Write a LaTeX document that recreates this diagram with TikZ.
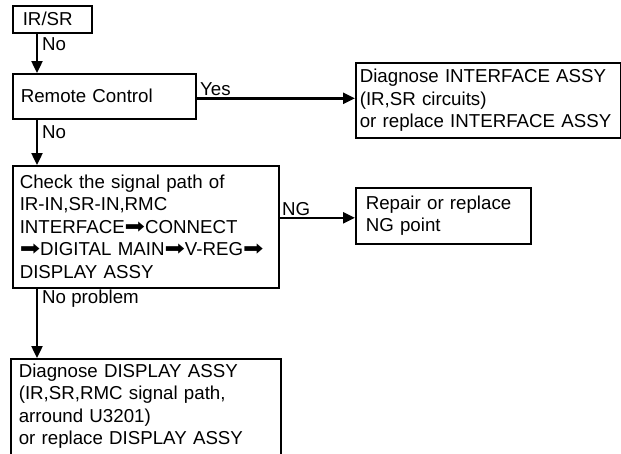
\documentclass[tikz,border=0pt]{standalone}
\usepackage{fontspec}
\setmainfont{Liberation Sans}
\newfontfamily\arrowfont{DejaVu Sans}
\usetikzlibrary{arrows.meta}

\newcommand{\boxfont}{\fontsize{18.7}{22.5}\selectfont}
\newcommand{\thickarrow}{\scalebox{1.3}[1.1]{\arrowfont ➡}}

\begin{document}
\begin{tikzpicture}[
x=1pt, y=-1pt,
box/.style={draw, line width=1.6pt, anchor=north west, align=left, inner ysep=0pt, font=\boxfont},
arr/.style={-{Triangle[length=12pt,width=11pt]}, line width=2.4pt},
lbl/.style={anchor=base west, inner sep=0pt, font=\boxfont}
]
\useasboundingbox (0,0) rectangle (621,453);
\clip (0,0) rectangle (621,453);

\node[box, inner xsep=10pt, text width=59pt, minimum height=27pt] (irsr) at (12,5) {IR/SR};

\node[box, inner xsep=8pt, text width=167pt, minimum height=45pt] (remote) at (12,73) {Remote Control};

\node[box, inner xsep=4pt, text width=257pt, minimum height=75pt] (ifassy) at (355,62) {Diagnose INTERFACE ASSY\\
(IR,SR circuits)\\
or replace INTERFACE ASSY};

\node[box, inner xsep=7pt, text width=252pt, minimum height=122pt] (check) at (12,165) {Check the signal path of\\
IR-IN,SR-IN,RMC\\
\mbox{INTERFACE\thickarrow CONNECT}\\
\mbox{\thickarrow DIGITAL MAIN\thickarrow V-REG\thickarrow}\\
DISPLAY ASSY};

\node[box, inner xsep=10pt, text width=155pt, minimum height=56pt] (repair) at (355,187) {Repair or replace\\
NG point};

\node[box, inner xsep=8pt, inner ysep=5pt, text width=254pt, text depth=90pt] (dispassy) at (10,358) {Diagnose DISPLAY ASSY\\
(IR,SR,RMC signal path,\\
arround U3201)\\
or replace DISPLAY ASSY};

\draw[arr] ([xshift=25pt]irsr.south west) -- ([xshift=25pt]irsr.south west |- remote.north);
\draw[arr] ([yshift=-2pt]remote.east) -- ([yshift=-2pt]remote.east -| ifassy.west);
\draw[arr] ([xshift=25pt]remote.south west) -- ([xshift=25pt]remote.south west |- check.north);
\draw[arr] ([yshift=9pt]check.east) -- ([yshift=9pt]check.east -| repair.west);
\draw[arr] ([xshift=25pt]check.south west) -- ([xshift=25pt]check.south west |- dispassy.north);

\node[lbl] (no1) at (42,50) {No};
\node[lbl] (yes) at (200,95) {Yes};
\node[lbl] (no2) at (42,138) {No};
\node[lbl] (ng) at (282,215) {NG};
\node[lbl] (noprob) at (42,303) {No problem};
\end{tikzpicture}
\end{document}
